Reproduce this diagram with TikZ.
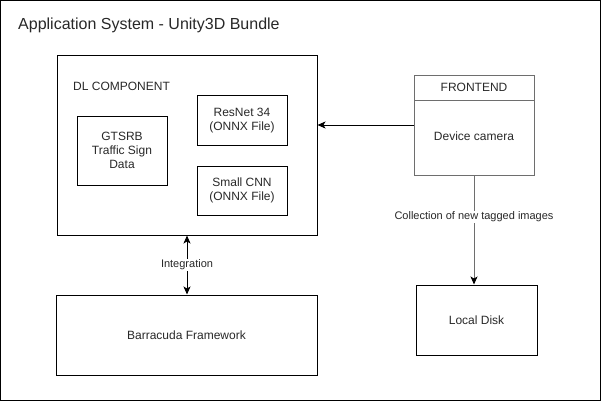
\documentclass[tikz,border=0pt]{standalone}
\usepackage{fontspec}
\setmainfont{Liberation Sans}
\usetikzlibrary{arrows.meta}
\definecolor{linegray}{RGB}{110,110,110}
\definecolor{textgray}{RGB}{40,40,40}

\begin{document}
\begin{tikzpicture}[x=1pt,y=-1pt,>={Stealth[length=8pt,width=7pt,inset=2pt]},
  box/.style={draw,line width=1pt,align=center,text=textgray,font=\fontsize{12}{14}\selectfont},
  lbl/.style={fill=white,inner sep=1pt,text=textgray,font=\fontsize{11}{13}\selectfont},
  arr/.style={line width=1pt,->}]
\useasboundingbox (0,0) rectangle (601,401);
\draw[line width=1pt] (0.5,0.5) rectangle (600.5,400.5);
\node[anchor=west,inner sep=0pt,text=textgray,font=\fontsize{16}{19}\selectfont] (title) at (18,25) {Application System - Unity3D Bundle};

 \node[box,minimum width=260,minimum height=179] (dl) at (187,145.5) {};
 \node[anchor=west,inner sep=0pt,text=textgray,font=\fontsize{12}{14}\selectfont] (dltitle) at (73,86) {DL COMPONENT};
 \node[box,minimum width=90,minimum height=69] (gtsrb) at (122,150.5) {GTSRB\\Traffic Sign\\Data};
 \node[box,minimum width=90,minimum height=49] (resnet) at (242,120.5) {ResNet 34\\(ONNX File)};
 \node[box,minimum width=90,minimum height=49] (cnn) at (242,190.5) {Small CNN\\(ONNX File)};

 \node[box,minimum width=261,minimum height=80] (barracuda) at (186.5,335) {Barracuda Framework};

 \node[box,draw=linegray,minimum width=120,minimum height=99] (frontend) at (474,125.5) {};
 \draw[linegray,line width=1pt] (414,100) -- (534,100);
 \node[text=textgray,font=\fontsize{12}{14}\selectfont] (fronttitle) at (474,87) {FRONTEND};
 \node[text=textgray,font=\fontsize{12}{14}\selectfont] (camera) at (474,136) {Device camera};

 \node[box,minimum width=121,minimum height=70] (disk) at (476.5,320) {Local Disk};

 \draw[arr] (frontend.west |- 0,125) -- (dl.east |- 0,125);
 \draw[line width=1pt,<->] (dl.south -| 187,0) -- node[lbl]{Integration} (barracuda.north -| 187,0);
 \draw[arr,draw=linegray,-{Stealth[length=8pt,width=7pt,inset=2pt,color=black]}] (frontend.south) -- node[lbl,pos=0.38]{Collection of new tagged images} (disk.north -| 474,0);

\end{tikzpicture}
\end{document}
